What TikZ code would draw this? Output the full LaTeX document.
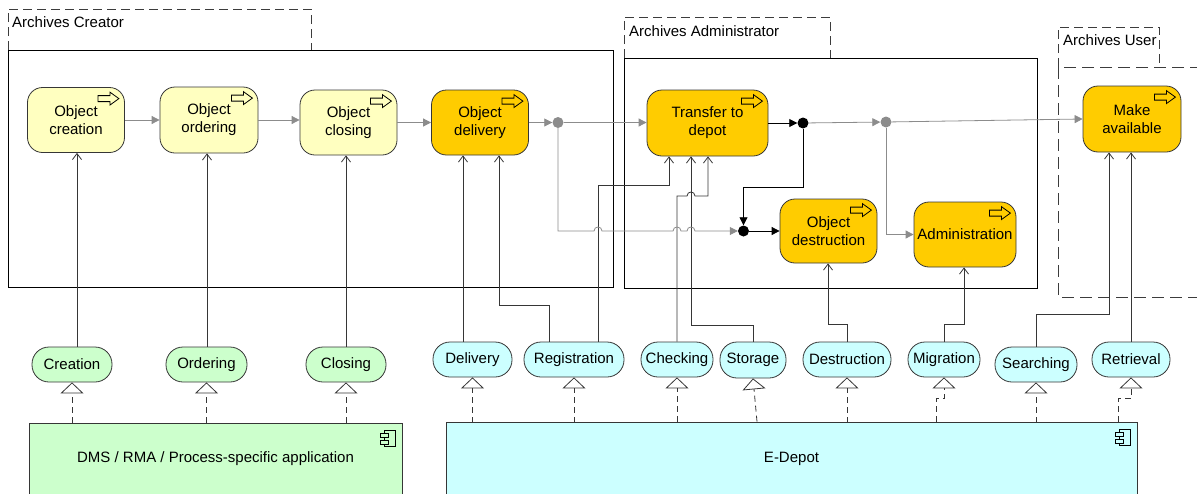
\documentclass[tikz,border=0pt]{standalone}
\usepackage{fontspec}
\setmainfont{Liberation Sans}
\usetikzlibrary{arrows.meta,calc}

\definecolor{bizpale}{HTML}{FFFFC0}
\definecolor{bizgold}{HTML}{FFCC00}
\definecolor{appgreen}{HTML}{CCFFCC}
\definecolor{appcyan}{HTML}{CCFFFF}
\definecolor{flowgray}{HTML}{8C8C8C}
\definecolor{edgedark}{HTML}{363636}
\definecolor{tabgray}{HTML}{3C3C3C}

\tikzset{
  txt/.style={font=\fontsize{15}{18}\selectfont},
  proc/.style={txt, draw=edgedark, line width=0.8pt, rounded corners=15pt,
    minimum width=97pt, minimum height=65pt, inner sep=0pt, align=center},
  svc/.style={txt, draw=edgedark, line width=0.8pt, rounded corners=17pt,
    minimum height=35pt, inner sep=0pt},
  comp/.style={txt, draw=edgedark, line width=0.8pt, inner sep=0pt},
  grouplabel/.style={txt, anchor=west, inner sep=0pt},
  grouptab/.style={draw=tabgray, line width=0.8pt, dash pattern=on 9pt off 5pt},
  groupbox/.style={draw=black, line width=0.9pt},
  serve/.style={draw=edgedark, line width=0.8pt,
    -{Straight Barb[length=6pt,width=9pt]}},
  realize/.style={draw=edgedark, line width=0.8pt, dash pattern=on 6pt off 4pt,
    -{Triangle[open,length=11pt,width=23pt]}},
  trig/.style={draw=flowgray, line width=0.8pt,
    -{Triangle[length=8pt,width=8pt]}, color=flowgray},
  trigk/.style={draw=black, line width=0.8pt,
    -{Triangle[length=8pt,width=8pt]}},
  junc/.style={circle, inner sep=0pt, minimum size=11pt},
  procicon/.pic={
    \draw[line width=0.8pt, line join=miter]
      (0,-3) -- (12,-3) -- (12,-6.5) -- (21,0) -- (12,6.5) -- (12,3) -- (0,3) -- cycle;
  },
  compicon/.pic={
    \draw[line width=0.7pt] (-18,8) rectangle (-7,24);
    \draw[line width=0.7pt, fill=#1] (-22,11) rectangle (-14,15);
    \draw[line width=0.7pt, fill=#1] (-22,18) rectangle (-14,22);
  },
}

\begin{document}
\begin{tikzpicture}[x=1pt,y=-1pt]
\useasboundingbox (0,0) rectangle (1197,493);
\clip (0,0) rectangle (1197,493);

% ---------- actor groups ----------
\draw[grouptab] (8,50) -- (8,9) -- (311,9) -- (311,50);
\draw[groupbox] (8,50) rectangle (613,287);
\node[grouplabel] (lCreator) at (12,22) {Archives Creator};

\draw[grouptab] (624,58) -- (624,17) -- (830,17) -- (830,58);
\draw[groupbox] (624,58) rectangle (1037,288);
\node[grouplabel] (lAdmin) at (629,31) {Archives Administrator};

\draw[grouptab] (1058,67) -- (1058,27) -- (1159,27) -- (1159,67);
\draw[grouptab, dash pattern=on 12pt off 6pt] (1058,67) rectangle (1215,297);
\node[grouplabel] (lUser) at (1063,40.5) {Archives User};

% ---------- business processes ----------
\node[proc, fill=bizpale] (pCre) at (76,120) {Object\\creation};
\node[proc, fill=bizpale, minimum width=98pt, minimum height=66pt] (pOrd) at (209,120) {Object\\ordering};
\node[proc, fill=bizpale] (pClo) at (348.5,122.5) {Object\\closing};
\node[proc, fill=bizgold] (pDel) at (480,122.5) {Object\\delivery};
\node[proc, fill=bizgold, minimum width=121pt, minimum height=66pt] (pTra) at (707.5,123) {Transfer to\\depot};
\node[proc, fill=bizgold, minimum height=64pt] (pDes) at (828.5,231) {Object\\destruction};
\node[proc, fill=bizgold, minimum width=102pt] (pAdm) at (965,234.5) {Administration};
\node[proc, fill=bizgold, minimum width=98pt, minimum height=66pt] (pMak) at (1132,119) {Make\\available};

\foreach \p in {pCre,pOrd,pClo,pDel,pTra,pDes,pAdm,pMak}
  \pic at ([xshift=-27pt,yshift=-11.5pt]\p.north east) {procicon};

% ---------- application services ----------
\node[svc, fill=appgreen, minimum width=80pt] (sCre) at (72,364.5) {Creation};
\node[svc, fill=appgreen, minimum width=81pt] (sOrd) at (206.5,364.5) {Ordering};
\node[svc, fill=appgreen, minimum width=80pt] (sClo) at (346,364.5) {Closing};
\node[svc, fill=appcyan, minimum width=79pt] (sDel) at (472.5,359.5) {Delivery};
\node[svc, fill=appcyan, minimum width=100pt] (sReg) at (574,359.5) {Registration};
\node[svc, fill=appcyan, minimum width=72pt] (sChe) at (677,359.5) {Checking};
\node[svc, fill=appcyan, minimum width=66pt, minimum height=36pt] (sSto) at (753,360) {Storage};
\node[svc, fill=appcyan, minimum width=88pt] (sDes) at (847,359.5) {Destruction};
\node[svc, fill=appcyan, minimum width=72pt] (sMig) at (944,359.5) {Migration};
\node[svc, fill=appcyan, minimum width=82pt] (sSea) at (1036,364.5) {Searching};
\node[svc, fill=appcyan, minimum width=78pt] (sRet) at (1131,359.5) {Retrieval};

% ---------- application components ----------
\node[comp, fill=appgreen, minimum width=373pt, minimum height=72pt] (dms) at (215.5,459)
  {DMS / RMA / Process-specific application};
\node[comp, fill=appcyan, minimum width=691pt, minimum height=74pt] (edep) at (791.5,459)
  {E-Depot};
\pic at (dms.north east) {compicon=appgreen};
\pic at (edep.north east) {compicon=appcyan};

% ---------- realization ----------
\foreach \s in {sCre,sOrd,sClo,sDel,sReg,sDes,sSea}
  \draw[realize] (dms.north -| \s.south) -- (\s.south);
\draw[realize] (edep.north -| sChe.south) -- (sChe.south);
\draw[realize] ($(edep.north -| sSto.south)+(4,0)$) -- (sSto.south);
\draw[realize] ($(edep.north -| sMig.south)+(-8,0)$) -- ++(0,-23) -| (sMig.south);
\draw[realize] ($(edep.north -| sRet.south)+(-13,0)$) -- ++(0,-23) -| (sRet.south);

% ---------- serving ----------
\draw[serve] ([xshift=5pt]sCre.north) -- ([xshift=1pt]pCre.south);
\draw[serve] ([xshift=0.5pt]sOrd.north) -- ([xshift=-2pt]pOrd.south);
\draw[serve] (sClo.north) -- ([xshift=-2.5pt]pClo.south);
\draw[serve] ([xshift=-9.5pt]sDel.north) -- ([xshift=-17pt]pDel.south);
\draw[serve] ([xshift=-25pt]sReg.north) -- ++(0,-36) -| ([xshift=19pt]pDel.south);
\draw[serve] ([xshift=24pt]sReg.north) -- ++(0,-156) -| ([xshift=-38.5pt]pTra.south);
\draw[serve] (sSto.north) -- ++(0,-16) -| ([xshift=-16.5pt]pTra.south);
\draw[serve] (sChe.north) -- (677,196) -- (687,196)
  .. controls (687,190.7) and (695,190.7) .. (695,196) -| ([xshift=0.5pt]pTra.south);
\draw[serve] (sDes.north) -- ++(0,-17) -| ([xshift=-0.5pt]pDes.south);
\draw[serve] (sMig.north) -- ++(0,-17) -| ([xshift=-1pt]pAdm.south);
\draw[serve] (sSea.north) -- ++(0,-32) -| ([xshift=-23pt]pMak.south);
\draw[serve] (sRet.north) -- ([xshift=-1pt]pMak.south);

% ---------- junctions ----------
\node[junc, fill=flowgray] (j1) at (558,122.5) {};
\node[junc, fill=black] (j2) at (743.5,231) {};
\node[junc, fill=black] (j3) at (803,123) {};
\node[junc, fill=flowgray] (j4) at (886,122) {};

% ---------- triggering ----------
\draw[trig] (pCre.east) -- (pCre.east -| pOrd.west);
\draw[trig] (pOrd.east) -- (pOrd.east -| pClo.west);
\draw[trig] (pClo.east) -- (pDel.west);
\draw[trig] (pDel.east) -- (j1);
\draw[trig] (j1) -- (j1 -| pTra.west);
\draw[trig] (j1) -- (558,231) -- (594,231)
  .. controls (594,225.7) and (602,225.7) .. (602,231) -- (673,231)
  .. controls (673,225.7) and (681,225.7) .. (681,231) -- (687,231)
  .. controls (687,225.7) and (695,225.7) .. (695,231) -- (j2);
\draw[trigk] (pTra.east) -- (j3);
\draw[trigk] (j3) -- (803,187) -| (j2);
\draw[trigk] (j2) -- (pDes.west);
\draw[trig] (j3) -- (j4);
\draw[trig] (j4) -- (pMak.west);
\draw[trig] (j4) |- (pAdm.west);

\end{tikzpicture}
\end{document}
